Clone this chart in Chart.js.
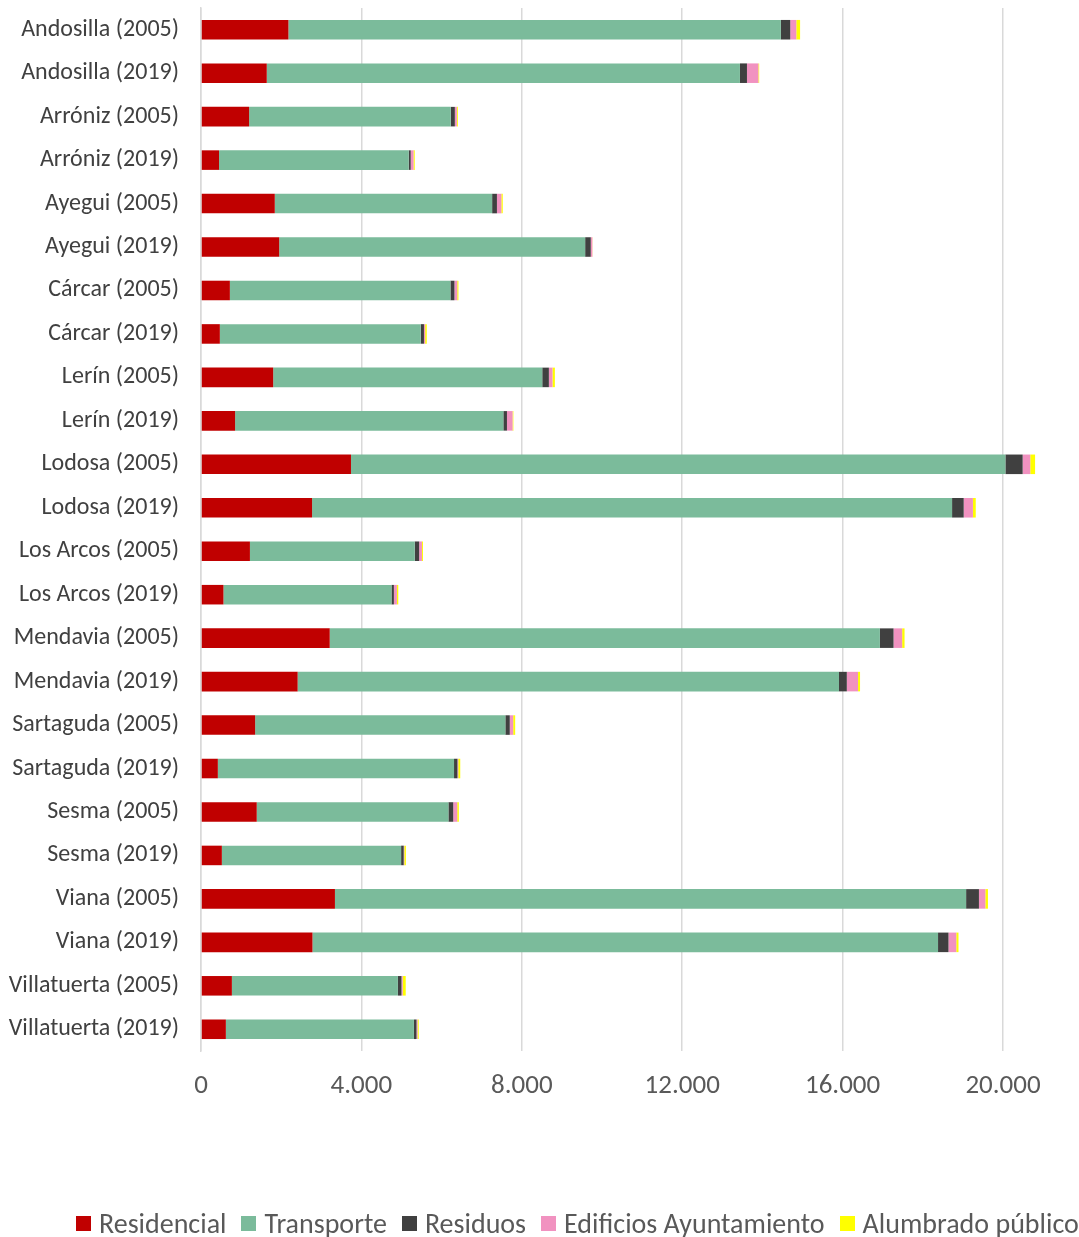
<!DOCTYPE html>
<html>
<head>
<meta charset="utf-8">
<script src="https://cdn.jsdelivr.net/npm/chart.js@4.4.0/dist/chart.umd.min.js"></script>
<style>
  html, body { margin: 0; padding: 0; background: #fff; overflow: hidden; }
  #wrap { width: 1079px; height: 1237px; position: relative; }
  #legend { position: absolute; left: 76px; top: 1205px; height: 36px; display: flex; align-items: center;
    font-family: Carlito, Lato, "Open Sans", sans-serif; font-size: 28px; color: #595959; white-space: nowrap; }
  #legend .item { display: flex; align-items: center; margin-right: 15px; }
  #legend .box { width: 15px; height: 15px; margin-right: 8px; }
</style>
</head>
<body>
<div id="wrap"><canvas id="chart"></canvas><div id="legend"></div></div>
<script>
// municipios y años
const categories = [
  'Andosilla (2005)', 'Andosilla (2019)', 'Arróniz (2005)', 'Arróniz (2019)',
  'Ayegui (2005)', 'Ayegui (2019)', 'Cárcar (2005)', 'Cárcar (2019)',
  'Lerín (2005)', 'Lerín (2019)', 'Lodosa (2005)', 'Lodosa (2019)',
  'Los Arcos (2005)', 'Los Arcos (2019)', 'Mendavia (2005)', 'Mendavia (2019)',
  'Sartaguda (2005)', 'Sartaguda (2019)', 'Sesma (2005)', 'Sesma (2019)',
  'Viana (2005)', 'Viana (2019)', 'Villatuerta (2005)', 'Villatuerta (2019)'
];

// valores
const residencial = [2180, 1640, 1200, 450, 1840, 1950, 720, 470, 1800, 850, 3740, 2770,
  1220, 560, 3210, 2410, 1350, 420, 1390, 520, 3340, 2780, 770, 620];
const transporte = [12280, 11800, 5030, 4730, 5420, 7630, 5500, 5010, 6710, 6690, 16320, 15960,
  4110, 4190, 13720, 13500, 6240, 5890, 4780, 4470, 15740, 15600, 4140, 4690];
const residuos = [235, 175, 100, 50, 120, 140, 100, 80, 165, 90, 430, 290,
  110, 60, 340, 195, 110, 85, 120, 65, 320, 260, 90, 65];
const edificios = [150, 285, 50, 70, 110, 40, 70, 30, 90, 140, 190, 230,
  70, 75, 215, 280, 85, 20, 100, 15, 160, 195, 30, 25];
const alumbrado = [95, 20, 25, 30, 35, 5, 30, 40, 60, 20, 120, 70,
  25, 35, 60, 50, 50, 50, 40, 40, 65, 55, 75, 30];

const xTicks = [0, 4000, 8000, 12000, 16000, 20000];

// formato español con punto de miles (también para 4 cifras)
function fmtThousands(n){ return String(n).replace(/\B(?=(\d{3})+(?!\d))/g, '.'); }

function ds(label, data, color){
  return { label, data, backgroundColor: color, borderWidth: 0, clip: false,
    categoryPercentage: 1, barPercentage: 0.45 };
}

const FONT = 'Carlito, Lato, "Open Sans", sans-serif';

const chart = new Chart(document.getElementById('chart'), {
  type: 'bar',
  data: {
    labels: categories,
    datasets: [
      ds('Residencial', residencial, '#c00000'),
      ds('Transporte', transporte, '#7bbb9b'),
      ds('Residuos', residuos, '#404040'),
      ds('Edificios Ayuntamiento', edificios, '#f192c0'),
      ds('Alumbrado público', alumbrado, '#ffff00')
    ]
  },
  options: {
    indexAxis: 'y',
    responsive: true,
    maintainAspectRatio: false,
    animation: false,
    layout: { padding: { left: 4, right: 76, top: 8, bottom: 0 } },
    plugins: {
      legend: { display: false },
      tooltip: { enabled: false }
    },
    scales: {
      x: {
        stacked: true,
        min: 0, max: 20000,
        afterBuildTicks: (axis) => { axis.ticks = xTicks.map(v => ({ value: v })); },
        afterFit: (axis) => { axis.height = 186; },
        grid: { color: '#d9d9d9', lineWidth: 1.5, drawTicks: false },
        border: { display: false },
        ticks: {
          padding: 19,
          color: '#595959',
          font: { family: FONT, size: 27 },
          callback: (v) => fmtThousands(v)
        }
      },
      y: {
        stacked: true,
        afterFit: (axis) => { axis.width = 197; axis.paddingTop = 0; axis.paddingBottom = 0; },
        grid: { display: false },
        border: { display: true, color: '#d9d9d9', width: 1.5 },
        ticks: {
          padding: 14,
          color: '#404040',
          font: { family: FONT, size: 24 }
        }
      }
    }
  }
});

// leyenda en HTML para que quepa en una sola línea
const legendEl = document.getElementById('legend');
chart.data.datasets.forEach(d => {
  const item = document.createElement('div');
  item.className = 'item';
  const box = document.createElement('span');
  box.className = 'box';
  box.style.background = d.backgroundColor;
  const txt = document.createElement('span');
  txt.textContent = d.label;
  item.appendChild(box); item.appendChild(txt);
  legendEl.appendChild(item);
});
</script>
</body>
</html>
